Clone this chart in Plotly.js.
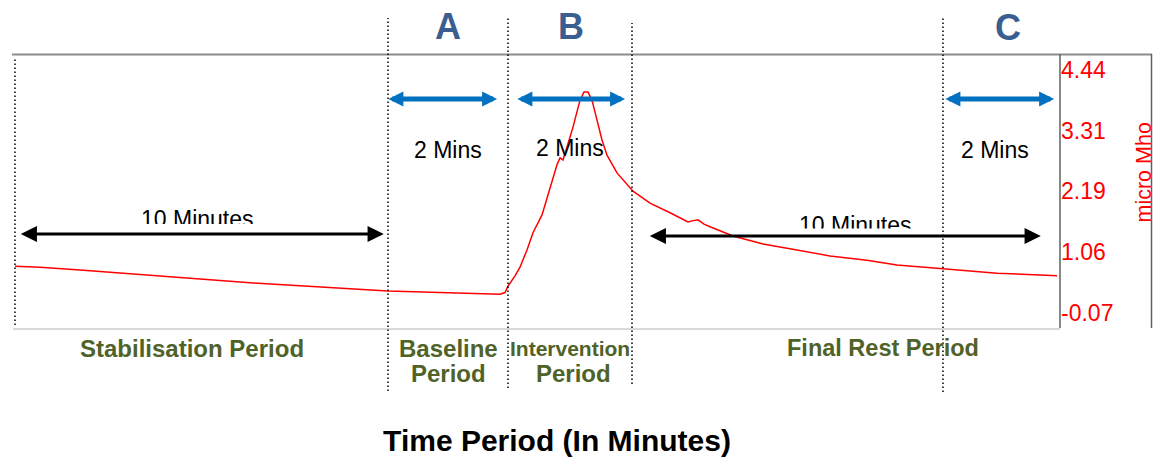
<!DOCTYPE html>
<html><head><meta charset="utf-8">
<script src="https://cdn.plot.ly/plotly-3.0.1.min.js"></script>
<style>html,body{margin:0;padding:0;background:#fff}#chart{width:1157px;height:459px}</style>
</head><body><div id="chart"></div>
<script>
// ---- data ----
const sampleIndex = [2,27,67,107,147,187,237,287,337,375,407,447,487,492,495,502,507,514,520,529,537,544,547,550,554,560,567,571,575,579,584,589,594,604,620,637,657,675,679,685,691,697,720,750,784,817,854,884,930,984,1044];
const conductance = [0.80,0.78,0.73,0.67,0.62,0.56,0.49,0.43,0.38,0.34,0.32,0.30,0.28,0.31,0.43,0.62,0.78,1.10,1.42,1.75,2.27,2.68,2.81,2.77,3.01,3.38,3.88,4.03,4.03,3.88,3.51,3.14,2.86,2.53,2.19,1.97,1.79,1.62,1.64,1.66,1.58,1.53,1.36,1.21,1.10,0.99,0.91,0.82,0.75,0.67,0.62];
const yTickVals = [-0.07, 1.06, 2.19, 3.31, 4.44];
const yTickText = ['-0.07', '1.06', '2.19', '3.31', '4.44'];
const periodBounds = [2, 375, 495, 619, 930];
const phaseLetters = ['A', 'B', 'C'];
const durationLabels = ['2 Mins', '2 Mins', '2 Mins'];
const longDurationLabel = '10 Minutes';
const periodNames = ['Stabilisation Period', 'Baseline', 'Period', 'Intervention', 'Period', 'Final Rest Period'];
const xTitle = 'Time Period (In Minutes)';
const yTitle = 'micro Mho';

// ---- layout geometry ----
const W = 1157, H = 459, PL = 13, PT = 55, PR = 97, PB = 131;
const PW = W - PL - PR, PH = H - PT - PB;
const px2x = p => (p - PL) / PW;
const py2y = p => (PT + PH - p) / PH;
const FONT = 'Liberation Sans, Arial, sans-serif';

const shapes = [];
// top rule
shapes.push({type:'line', xref:'paper', yref:'paper', x0:px2x(12), x1:px2x(1152), y0:py2y(54.5), y1:py2y(54.5), line:{color:'#8c8c8c', width:2}});
// right axis box
shapes.push({type:'line', xref:'paper', yref:'paper', x0:px2x(1060), x1:px2x(1060), y0:py2y(54), y1:py2y(328), line:{color:'#606060', width:1.5}});
shapes.push({type:'line', xref:'paper', yref:'paper', x0:px2x(1151.5), x1:px2x(1151.5), y0:py2y(54), y1:py2y(328), line:{color:'#606060', width:1.5}});
// period dividers
const divExt = [[57,325],[18,391],[18,388],[23,384],[18,392]];
periodBounds.forEach((b, i) => {
  shapes.push({type:'line', xref:'x', yref:'paper', x0:b, x1:b, y0:py2y(divExt[i][1]), y1:py2y(divExt[i][0]), line:{color:'#000', width:1.5, dash:'1.5px,2.5px'}});
});

const ann = [];
function dblArrow(tipL, tipR, py, color, width, size){
  const sc = width*size, off = 1.3*sc;
  const head = tipR - off, tail = tipL + off;
  ann.push({xref:'paper', yref:'paper', x:px2x(head), y:py2y(py), axref:'pixel', ayref:'pixel', ax:tail-head, ay:0,
    text:'', showarrow:true, arrowhead:2, startarrowhead:2, arrowside:'end+start', arrowsize:size, startarrowsize:size,
    arrowwidth:width, arrowcolor:color, standoff:0, startstandoff:0, borderpad:0});
}
dblArrow(384, 501, 99, '#0070c0', 5, 0.6);
dblArrow(513, 629, 99, '#0070c0', 5, 0.6);
dblArrow(941, 1058, 99, '#0070c0', 5, 0.6);
dblArrow(16, 388, 234, '#000000', 3, 1.08);
dblArrow(645, 1045, 236, '#000000', 3, 1.08);

function txt(t, px, py, size, color, bold, extra){
  ann.push(Object.assign({xref:'paper', yref:'paper', x:px2x(px), y:py2y(py), xanchor:'center', yanchor:'middle',
    text:t, showarrow:false, font:{family:FONT, size:size, color:color, weight: bold ? 'bold' : 'normal'}}, extra||{}));
}
// phase letters
[[448,27],[571,27],[1008,28]].forEach((p,i) => txt(phaseLetters[i], p[0], p[1], 36, '#3b5e91', true));
// 2 Mins labels
[[448,150],[570,148],[995,150]].forEach((p,i) => txt(durationLabels[i], p[0], p[1], 23, '#000', false));
// 10 Minutes (bottom clipped by box height)
txt(longDurationLabel, 197, 204.5, 23, '#000', false, {yanchor:'top', height:18, valign:'top', borderpad:0});
txt(longDurationLabel, 855, 210.5, 23, '#000', false, {yanchor:'top', height:16.5, valign:'top', borderpad:0});
// period names
const olive = '#4f6228';
txt(periodNames[0], 192, 348, 24, olive, true);
txt(periodNames[1], 448, 348, 24, olive, true);
txt(periodNames[2], 448, 373, 24, olive, true);
txt(periodNames[3], 570, 348, 21, olive, true);
txt(periodNames[4], 573, 373, 24, olive, true);
txt(periodNames[5], 883, 348, 23.5, olive, true);
// y title
txt(yTitle, 1143, 172.5, 21.5, '#ff0000', false, {textangle:-90});

const trace = {x:sampleIndex, y:conductance, type:'scatter', mode:'lines', line:{color:'#ff0000', width:1.5}, hoverinfo:'skip'};

const layout = {
  width:W, height:H, margin:{l:PL, r:PR, t:PT, b:PB, pad:0},
  paper_bgcolor:'#fff', plot_bgcolor:'#fff', showlegend:false, hovermode:false,
  font:{family:FONT},
  title:{text:xTitle, xref:'paper', x:px2x(557), xanchor:'center', yref:'container', y:1 - 440/H, yanchor:'middle',
    font:{family:FONT, size:30, color:'#000', weight:'bold'}},
  xaxis:{range:[0, PW], showgrid:false, zeroline:false, showticklabels:false, ticks:'', showline:true, linecolor:'#d9d9d9', linewidth:1.5,
    fixedrange:true},
  yaxis:{side:'right', range:[-0.348, 4.718], showgrid:false, zeroline:false, showline:false, ticks:'',
    tickvals:yTickVals, ticktext:yTickText, tickfont:{family:FONT, size:23, color:'#ff0000'}, fixedrange:true},
  shapes:shapes, annotations:ann
};
Plotly.newPlot('chart', [trace], layout, {displayModeBar:false, staticPlot:true});
</script></body></html>
